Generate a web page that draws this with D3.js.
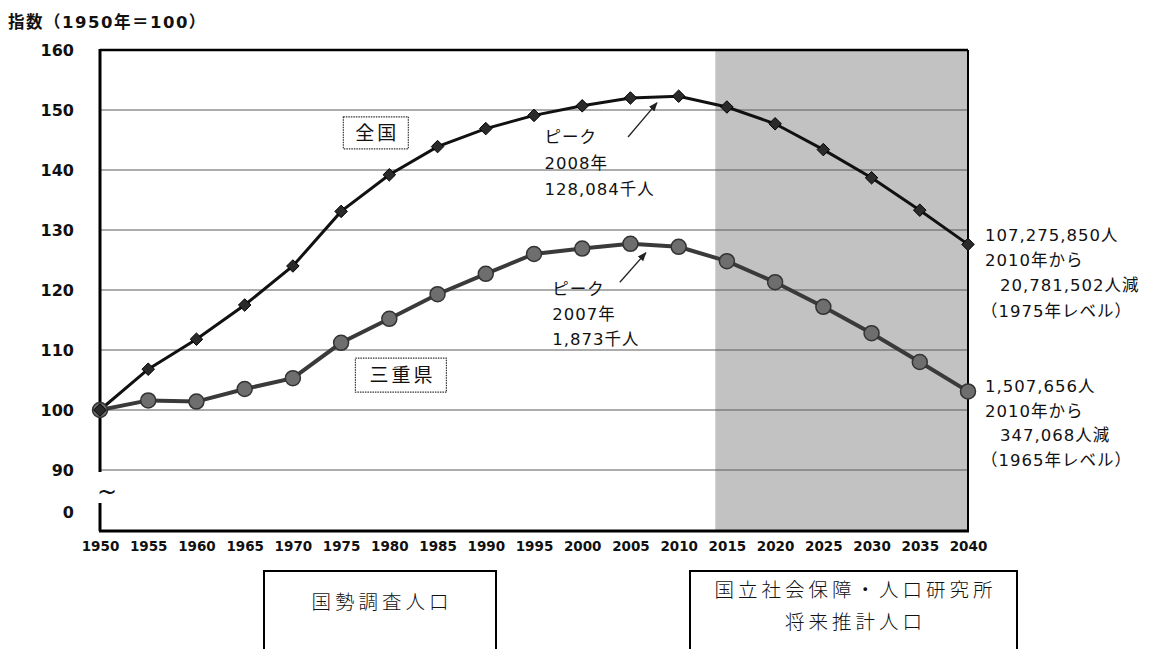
<!DOCTYPE html>
<html>
<head>
<meta charset="utf-8">
<script src="https://cdn.jsdelivr.net/npm/d3@7"></script>
<style>
  body { margin: 0; background: #fff; }
  text { fill: #111; }
  .jp { font-family: "DejaVu Sans", "Noto Sans CJK JP", sans-serif; }
  .num { font-family: "DejaVu Sans", sans-serif; font-weight: bold; }
</style>
</head>
<body>
<div id="chart"></div>
<script>
// Data
const years = [1950, 1955, 1960, 1965, 1970, 1975, 1980, 1985, 1990, 1995, 2000, 2005, 2010, 2015, 2020, 2025, 2030, 2035, 2040]
const zenkoku = [100, 106.8, 111.8, 117.5, 124.0, 133.1, 139.2, 143.9, 146.9, 149.1, 150.7, 152.0, 152.3, 150.5, 147.7, 143.4, 138.7, 133.3, 127.6]
const mie = [100, 101.6, 101.4, 103.5, 105.3, 111.2, 115.2, 119.3, 122.7, 126.0, 126.9, 127.7, 127.2, 124.8, 121.3, 117.2, 112.8, 108.0, 103.1]
const yTicks = [0, 90, 100, 110, 120, 130, 140, 150, 160]
const gridValues = [90, 100, 110, 120, 130, 140, 150]
const projectionStart = 2013.8

const yTitle = "指数（1950年＝100）"
const peakZenkoku = ["ピーク", "2008年", "128,084千人"]
const peakMie = ["ピーク", "2007年", "1,873千人"]
const endZenkoku = ["107,275,850人", "2010年から", "20,781,502人減", "（1975年レベル）"]
const endMie = ["1,507,656人", "2010年から", "347,068人減", "（1965年レベル）"]
const endIndent = [0, 0, 15, -4]

// Dimensions
const width = 1155
const height = 649
const margin = {top: 50, right: 187, bottom: 118, left: 100}
const plotRight = width - margin.right
const plotBottom = height - margin.bottom
const shadeColor = "#c2c2c2"

const svg = d3.select("#chart")
  .append("svg")
    .attr("width", width)
    .attr("height", height)

// Scales (broken axis: 0 .. 90 compressed)
const xScale = d3.scaleLinear()
    .domain([1950, 2040])
    .range([margin.left, plotRight])
const yScale = d3.scaleLinear()
    .domain([0, 90, 160])
    .range([512, 470, margin.top])

// Projection shading
svg.append("rect")
    .attr("x", xScale(projectionStart))
    .attr("y", margin.top)
    .attr("width", xScale(2040) - xScale(projectionStart))
    .attr("height", plotBottom - margin.top)
    .attr("fill", shadeColor)

// Grid lines
svg.append("g")
    .attr("class", "grid")
  .selectAll("line")
    .data(gridValues)
    .enter().append("line")
    .attr("x1", margin.left)
    .attr("x2", plotRight)
    .attr("y1", function(d) { return yScale(d) })
    .attr("y2", function(d) { return yScale(d) })
    .attr("stroke", "#5a5a5a")
    .attr("stroke-width", 1)

// Frame: top and right
svg.append("line")
    .attr("x1", margin.left).attr("x2", plotRight)
    .attr("y1", yScale(160)).attr("y2", yScale(160))
    .attr("stroke", "#000").attr("stroke-width", 2.5)
svg.append("line")
    .attr("x1", plotRight).attr("x2", plotRight)
    .attr("y1", yScale(160)).attr("y2", plotBottom)
    .attr("stroke", "#000").attr("stroke-width", 2)

// Bottom axis line
svg.append("line")
    .attr("x1", margin.left - 1).attr("x2", plotRight + 1)
    .attr("y1", plotBottom).attr("y2", plotBottom)
    .attr("stroke", "#000").attr("stroke-width", 3)

// Left axis, broken between 0 and 90
svg.append("line")
    .attr("x1", margin.left).attr("x2", margin.left)
    .attr("y1", yScale(160) - 1).attr("y2", yScale(90) + 2)
    .attr("stroke", "#000").attr("stroke-width", 3)
svg.append("line")
    .attr("x1", margin.left).attr("x2", margin.left)
    .attr("y1", yScale(0) - 9).attr("y2", plotBottom)
    .attr("stroke", "#000").attr("stroke-width", 3)
svg.append("text")
    .attr("x", margin.left + 7)
    .attr("y", (yScale(90) + yScale(0)) / 2 + 9)
    .attr("text-anchor", "middle")
    .style("font-family", "DejaVu Sans")
    .style("font-size", "24px")
    .text("~")

// Y tick labels
svg.append("g")
  .selectAll("text")
    .data(yTicks)
    .enter().append("text")
    .attr("class", "num")
    .attr("x", margin.left - 26)
    .attr("y", function(d) { return yScale(d) })
    .attr("dy", "0.36em")
    .attr("text-anchor", "end")
    .style("font-size", "16px")
    .text(function(d) { return d })

// X tick labels
const xAxis = svg.append("g")
    .attr("transform", `translate(0,${plotBottom})`)
    .call(d3.axisBottom(xScale)
      .tickValues(years)
      .tickSize(0)
      .tickPadding(10)
      .tickFormat(d3.format("d")))
xAxis.select(".domain").remove()
xAxis.selectAll("text")
    .attr("class", "num")
    .style("font-size", "13.5px")
    .attr("fill", "#111")

// Y title
svg.append("text")
    .attr("class", "jp")
    .attr("x", 8)
    .attr("y", 28)
    .style("font-size", "16.5px")
    .style("font-weight", "bold")
    .style("letter-spacing", "1.5px")
    .text(yTitle)

// Lines
const seriesLine = d3.line()
    .x(function(d, i) { return xScale(years[i]) })
    .y(function(d) { return yScale(d) })

svg.append("path")
    .datum(mie)
    .attr("fill", "none")
    .attr("stroke", "#3a3a3a")
    .attr("stroke-width", 4)
    .attr("d", seriesLine)

svg.append("path")
    .datum(zenkoku)
    .attr("fill", "none")
    .attr("stroke", "#111")
    .attr("stroke-width", 3)
    .attr("d", seriesLine)

// Markers: circles for Mie
svg.selectAll(".dot-mie")
    .data(mie)
    .enter().append("circle")
    .attr("class", "dot-mie")
    .attr("cx", function(d, i) { return xScale(years[i]) })
    .attr("cy", function(d) { return yScale(d) })
    .attr("r", 7.5)
    .attr("fill", "#6e6e6e")
    .attr("stroke", "#333")
    .attr("stroke-width", 1.5)

// Markers: diamonds for all Japan
svg.selectAll(".dot-zenkoku")
    .data(zenkoku)
    .enter().append("path")
    .attr("class", "dot-zenkoku")
    .attr("d", d3.symbol().type(d3.symbolDiamond2).size(100))
    .attr("transform", function(d, i) { return `translate(${xScale(years[i])},${yScale(d)})` })
    .attr("fill", "#2a2a2a")
    .attr("stroke", "#000")
    .attr("stroke-width", 1)

// Series label boxes
function labelBox(cx, cy, w, h, label) {
  svg.append("rect")
      .attr("x", cx - w / 2)
      .attr("y", cy - h / 2)
      .attr("width", w)
      .attr("height", h)
      .attr("fill", "#fff")
      .attr("stroke", "#333")
      .attr("stroke-width", 1.2)
      .attr("stroke-dasharray", "1.5,1")
  svg.append("text")
      .attr("class", "jp")
      .attr("x", cx + 1.5)
      .attr("y", cy)
      .attr("dy", "0.36em")
      .attr("text-anchor", "middle")
      .style("font-size", "19px")
      .style("letter-spacing", "3px")
      .text(label)
}
labelBox(xScale(1978.6), yScale(146.2), 65, 32, "全国")
labelBox(xScale(1981.2), yScale(105.8), 91, 34, "三重県")

// Multi-line text helper
function textBlock(x, y, lines, lineHeight, indent) {
  const t = svg.append("text")
      .attr("class", "jp")
      .style("font-size", "16.5px")
      .style("letter-spacing", "1px")
  lines.forEach(function(line, i) {
    t.append("tspan")
        .attr("x", x + (indent ? indent[i] : 0))
        .attr("y", y + i * lineHeight)
        .text(line)
  })
}

// Peak annotations with arrows
svg.append("defs").append("marker")
    .attr("id", "arrow")
    .attr("viewBox", "0 0 10 10")
    .attr("refX", 9).attr("refY", 5)
    .attr("markerWidth", 7).attr("markerHeight", 7)
    .attr("orient", "auto")
  .append("path")
    .attr("d", "M0,1 L10,5 L0,9 Z")
    .attr("fill", "#222")

function arrow(x1, y1, x2, y2) {
  svg.append("line")
      .attr("x1", xScale(x1)).attr("y1", yScale(y1))
      .attr("x2", xScale(x2)).attr("y2", yScale(y2))
      .attr("stroke", "#222")
      .attr("stroke-width", 1.3)
      .attr("marker-end", "url(#arrow)")
}

textBlock(xScale(1996.1), yScale(144.5), peakZenkoku, 26)
arrow(2004.75, 145.5, 2007.75, 151.2)
textBlock(xScale(1996.9), yScale(119.2), peakMie, 25)
arrow(2003.9, 121.3, 2006.6, 126.2)

// End-point annotations
textBlock(xScale(2040) + 17, yScale(128.2), endZenkoku, 25.3, endIndent)
textBlock(xScale(2040) + 17, yScale(103.0), endMie, 24.7, endIndent)

// Source boxes under the chart
function sourceBox(x, y, w, h, lines, lineY) {
  svg.append("rect")
      .attr("x", x).attr("y", y)
      .attr("width", w).attr("height", h)
      .attr("fill", "#fff")
      .attr("stroke", "#000")
      .attr("stroke-width", 2)
  lines.forEach(function(line, i) {
    svg.append("text")
        .attr("x", x + w / 2 + 2)
        .attr("y", lineY[i])
        .attr("dy", "0.36em")
        .attr("text-anchor", "middle")
        .style("font-family", "Noto Sans CJK JP")
        .style("font-size", "19.5px")
        .style("font-weight", "300")
        .style("letter-spacing", "4px")
        .text(line)
  })
}
sourceBox(264, 571, 232, 90, ["国勢調査人口"], [602])
sourceBox(690, 571, 327, 90, ["国立社会保障・人口研究所", "将来推計人口"], [590, 622])
</script>
</body>
</html>
